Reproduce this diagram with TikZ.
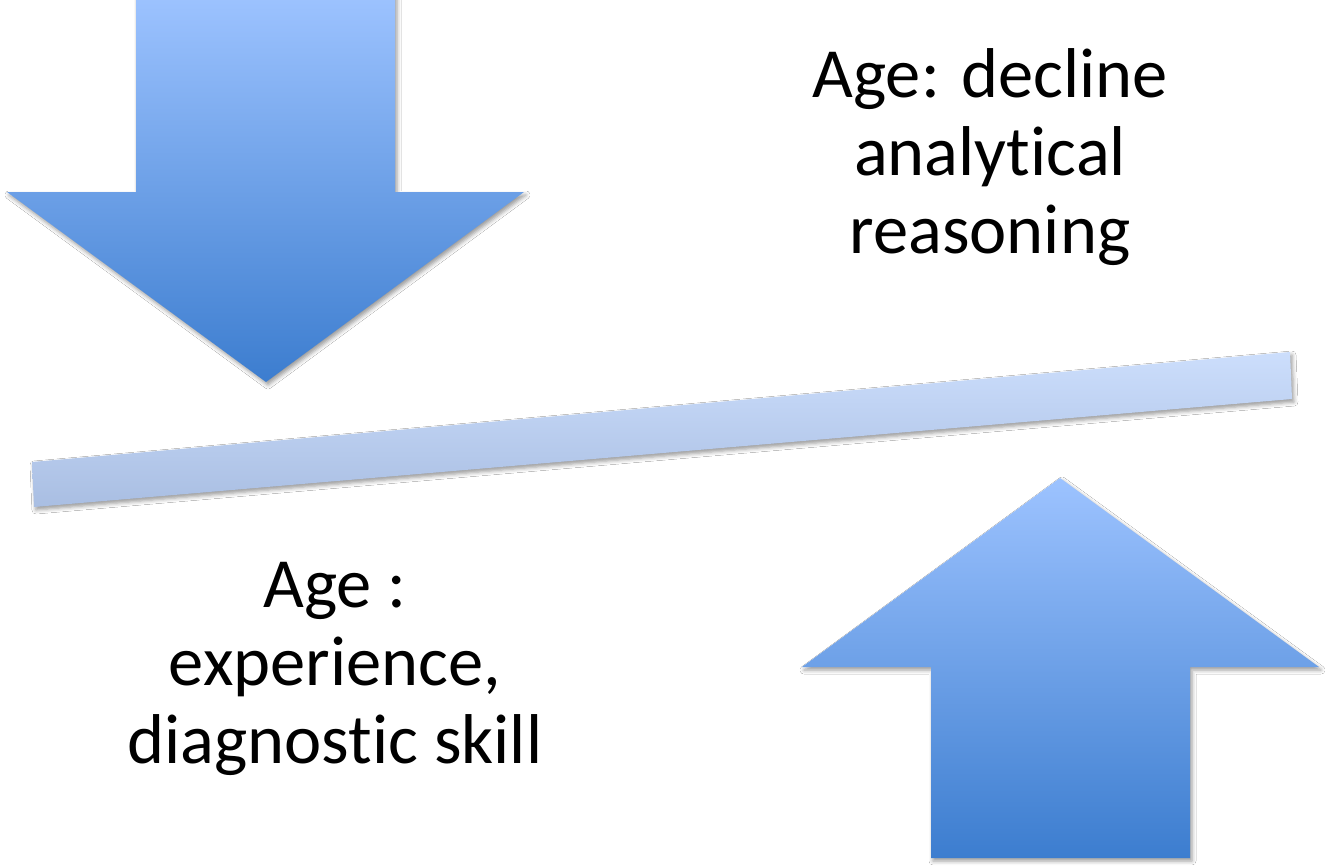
\documentclass[tikz,border=0pt]{standalone}
\usepackage{fontspec}
\setmainfont{Carlito}[Ligatures={NoCommon,NoContextual}]
\usetikzlibrary{shadows.blur}
\definecolor{arrtop}{HTML}{9DC3FF}
\definecolor{arrbot}{HTML}{3C7DCF}
\definecolor{bartop}{HTML}{CCDEFC}
\definecolor{barbot}{HTML}{A9BEE2}
\tikzset{
  bigarrow/.style={top color=arrtop, bottom color=arrbot, draw=none,
    blur shadow={shadow xshift=2pt, shadow yshift=-3pt, shadow blur radius=4pt, shadow opacity=40}},
  beam/.style={top color=bartop, bottom color=barbot, draw=none,
    blur shadow={shadow xshift=2pt, shadow yshift=-3pt, shadow blur radius=4pt, shadow opacity=40}},
  bigtext/.style={font=\fontsize{70.5}{78}\selectfont, align=center, text=black, inner sep=0pt}
}
\begin{document}
\begin{tikzpicture}[x=1pt,y=-1pt]
\useasboundingbox[fill=white] (0,0) rectangle (1325,865);
% down arrow
\path[bigarrow] (136,-5) -- (395,-5) -- (395,192) -- (524,192) -- (266,382) -- (7,192) -- (136,192) -- cycle;
% beam
\path[beam] (32,462) -- (1290,352) -- (1292,399) -- (34,507) -- cycle;
% up arrow
\path[bigarrow] (1060,478) -- (1319,667) -- (1190,667) -- (1190,858) -- (931,858) -- (931,667) -- (802,667) -- cycle;
% texts
\node[bigtext] (upper) at (990,157) {Age: decline\\analytical\\reasoning};
\node[bigtext] (lower) at (335,669) {Age :\\experience,\\diagnostic skill};
\end{tikzpicture}
\end{document}
